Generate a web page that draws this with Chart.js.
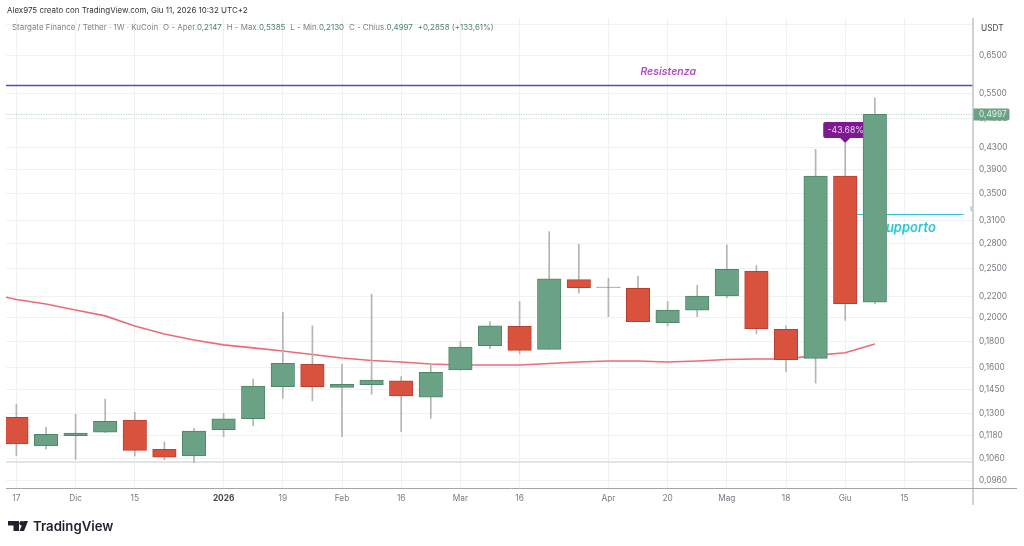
<!DOCTYPE html>
<html lang="it">
<head>
<meta charset="utf-8">
<title>Stargate Finance / Tether</title>
<script src="https://cdn.jsdelivr.net/npm/chart.js@4"></script>
<style>
  html, body { margin: 0; background: #fff; }
  #wrap { position: relative; width: 1024px; height: 546px; }
</style>
</head>
<body>
<div id="wrap"><canvas id="chart" width="1024" height="546"></canvas></div>
<script>
// Weekly candles, oldest first
const opens  = [0.1278,0.1124,0.1177,0.1195,0.1263,0.1107,0.1074,0.1209,0.1271,0.1468,0.1623,0.1463,0.1481,0.1506,0.1399,0.1582,0.1765,0.1926,0.1736,0.2375,0.2298,0.2285,0.1957,0.2070,0.2207,0.2470,0.1900,0.1667,0.3788,0.2147];
const closes = [0.1134,0.1184,0.1191,0.1256,0.1102,0.1068,0.1202,0.1269,0.1472,0.1630,0.1468,0.1483,0.1511,0.1407,0.1565,0.1754,0.1929,0.1728,0.2385,0.2291,0.2293,0.1966,0.2072,0.2207,0.2489,0.1905,0.1657,0.3788,0.2132,0.4997];
const highs  = [0.1356,0.1222,0.1296,0.1388,0.1308,0.1144,0.1217,0.1302,0.1519,0.2051,0.1929,0.1625,0.2227,0.1535,0.1625,0.1800,0.1966,0.2151,0.2948,0.2785,0.2390,0.2415,0.2151,0.2316,0.2777,0.2530,0.1929,0.4271,0.4394,0.5385];
const lows   = [0.1076,0.1107,0.1058,0.1193,0.1074,0.1056,0.1042,0.1172,0.1231,0.1393,0.1376,0.1172,0.1418,0.1199,0.1273,0.1582,0.1741,0.1700,0.1736,0.2234,0.2011,0.1966,0.1929,0.2011,0.2191,0.1860,0.1570,0.1490,0.1978,0.2130];

// Moving average; the first entry belongs to the week before the visible range
const movingAverage = [0.2237,0.2172,0.2129,0.2072,0.2018,0.1929,0.1860,0.1811,0.1771,0.1747,0.1723,0.1696,0.1670,0.1651,0.1640,0.1625,0.1618,0.1618,0.1618,0.1629,0.1640,0.1647,0.1647,0.1640,0.1647,0.1658,0.1662,0.1662,0.1689,0.1710,0.1778];

// Axis ticks
const priceTicks  = [0.75,0.65,0.55,0.49,0.43,0.39,0.35,0.31,0.28,0.25,0.22,0.20,0.18,0.16,0.145,0.13,0.118,0.106,0.096];
const priceLabels = ['','0,6500','0,5500','0,4900','0,4300','0,3900','0,3500','0,3100','0,2800','0,2500','0,2200','0,2000','0,1800','0,1600','0,1450','0,1300','0,1180','0,1060','0,0960'];
const weekTicks   = [0,2,4,7,9,11,13,15,17,20,22,24,26,28,30];
const weekLabels  = ['17','Dic','15','2026','19','Feb','16','Mar','16','Apr','20','Mag','18','Giu','15'];

// Drawn levels
const resistanceLevel = 0.5692;
const supportLevel    = 0.3192;
const floorLevel      = 0.1046;

const GREEN = '#6ba285', GREEN_EDGE = '#4f8669';
const RED = '#d9523e', RED_EDGE = '#b9402f';
const FONT = 'Inter, "Noto Sans", sans-serif';

const weeks = opens.map((_, i) => i);
const isUp = i => closes[i] >= opens[i];

// Everything that sits behind the candles: levels, notes and the measure flag
const behindCandles = {
  id: 'behindCandles',
  beforeDatasetsDraw(chart) {
    const { ctx, chartArea: a, scales: { x, y } } = chart;
    ctx.save();

    // thick grey level near the bottom
    ctx.strokeStyle = '#e3e4e5'; ctx.lineWidth = 2;
    hLine(ctx, a.left, a.right, y.getPixelForValue(floorLevel));

    // last price dotted line
    ctx.strokeStyle = '#a8cdb8'; ctx.lineWidth = 1; ctx.setLineDash([1, 1.5]);
    hLine(ctx, a.left, a.right, y.getPixelForValue(closes[closes.length - 1]));
    ctx.setLineDash([]);

    // resistance
    ctx.strokeStyle = '#5d49b3'; ctx.lineWidth = 1.5;
    hLine(ctx, a.left, a.right, y.getPixelForValue(resistanceLevel));
    ctx.font = 'italic 600 10.5px ' + FONT;
    ctx.fillStyle = '#b24cc4'; ctx.textAlign = 'center'; ctx.textBaseline = 'middle';
    ctx.fillText('Resistenza', x.getPixelForValue(22.02), y.getPixelForValue(0.6048));

    // support
    ctx.strokeStyle = '#35c3d6'; ctx.lineWidth = 1;
    hLine(ctx, x.getPixelForValue(28), x.getPixelForValue(32.0), Math.round(y.getPixelForValue(supportLevel)) + 0.5);
    ctx.font = 'italic 600 13px ' + FONT;
    ctx.fillStyle = '#2cc3d8'; ctx.textAlign = 'right';
    ctx.fillText('Supporto', x.getPixelForValue(31.06), y.getPixelForValue(0.2997));
    ctx.fillStyle = 'rgba(53,195,214,0.55)';
    ctx.fillRect(a.right - 2, y.getPixelForValue(0.3305), 1.5, 5);

    // measure flag over the June candle
    const fx = x.getPixelForValue(28), tip = y.getPixelForValue(highs[28]);
    ctx.fillStyle = '#7d1a90';
    ctx.beginPath();
    ctx.roundRect(fx - 22, tip - 21, 44, 16, 2);
    ctx.fill();
    ctx.beginPath();
    ctx.moveTo(fx - 5, tip - 5); ctx.lineTo(fx, tip); ctx.lineTo(fx + 5, tip - 5);
    ctx.closePath(); ctx.fill();
    ctx.font = '8.7px ' + FONT;
    ctx.fillStyle = '#e8cdef'; ctx.textAlign = 'center';
    ctx.fillText('-43.68%', fx + 0.5, tip - 12.5);
    ctx.restore();
  }
};

// Axis frame, price tag, headers and wordmark
const overlay = {
  id: 'overlay',
  afterDraw(chart) {
    const { ctx, chartArea: a, scales: { y } } = chart;
    ctx.save();

    ctx.strokeStyle = '#a3a5a8'; ctx.lineWidth = 1;
    ctx.beginPath();
    ctx.moveTo(a.right + 0.5, a.top); ctx.lineTo(a.right + 0.5, 505);
    ctx.moveTo(a.left, a.bottom + 0.5); ctx.lineTo(1017, a.bottom + 0.5);
    ctx.stroke();

    // last price tag on the axis
    const py = y.getPixelForValue(closes[closes.length - 1]);
    ctx.fillStyle = '#6ba285';
    ctx.beginPath();
    ctx.roundRect(a.right + 1, py - 6, 36, 12, [0, 2, 2, 0]);
    ctx.fill();
    ctx.font = '8.3px ' + FONT;
    ctx.fillStyle = '#e2f0e8'; ctx.textAlign = 'left'; ctx.textBaseline = 'middle';
    ctx.fillText('0,4997', a.right + 6.5, py + 0.5);

    ctx.fillStyle = '#43464e';
    ctx.fillText('USDT', 981, 29);

    // authoring line
    ctx.font = '7.95px ' + FONT;
    ctx.fillStyle = '#30333a';
    ctx.fillText('Alex975 creato con TradingView.com, Giu 11, 2026 10:32 UTC+2', 7, 10.5);

    // symbol and OHLC line
    const grey = '#7d8187', green = '#4f8669';
    const parts = [
      ['Stargate Finance / Tether · 1W · KuCoin', grey, 4.9],
      ['O - Aper.', grey, 0], ['0,2147', green, 4.9],
      ['H - Max.', grey, 0], ['0,5385', green, 4.9],
      ['L - Min.', grey, 0], ['0,2130', green, 4.9],
      ['C - Chius.', grey, 0], ['0,4997', green, 4.9],
      ['+0,2858 (+133,61%)', green, 0]
    ];
    ctx.font = '7.95px ' + FONT;
    let tx = 12;
    for (const [text, colour, gap] of parts) {
      ctx.fillStyle = colour;
      ctx.fillText(text, tx, 28);
      tx += ctx.measureText(text).width + gap;
    }

    // wordmark
    ctx.fillStyle = '#1e222d';
    ctx.beginPath();
    ctx.moveTo(8, 521); ctx.lineTo(19, 521); ctx.lineTo(19, 531); ctx.lineTo(13.5, 531);
    ctx.lineTo(13.5, 525.5); ctx.lineTo(8, 525.5); ctx.closePath(); ctx.fill();
    ctx.beginPath(); ctx.arc(21.6, 523.2, 2.2, 0, Math.PI * 2); ctx.fill();
    ctx.beginPath();
    ctx.moveTo(23.5, 521); ctx.lineTo(28, 521); ctx.lineTo(24, 531); ctx.lineTo(19.5, 531);
    ctx.closePath(); ctx.fill();
    ctx.font = '600 13.2px ' + FONT;
    ctx.textBaseline = 'alphabetic';
    ctx.fillText('TradingView', 33, 531);
    ctx.restore();
  }
};

function hLine(ctx, x0, x1, py) {
  ctx.beginPath();
  ctx.moveTo(x0, py);
  ctx.lineTo(x1, py);
  ctx.stroke();
}

new Chart(document.getElementById('chart'), {
  type: 'bar',
  data: {
    datasets: [
      {
        type: 'line',
        label: 'Media mobile',
        data: movingAverage.map((v, i) => ({ x: i - 1, y: v })),
        borderColor: '#ee6a76',
        borderWidth: 1.6,
        pointRadius: 0,
        tension: 0,
        order: 3
      },
      {
        label: 'Minimo / massimo',
        data: weeks.map(i => ({ x: i, y: [lows[i], highs[i]] })),
        backgroundColor: '#b3b5b4',
        barThickness: 1,
        borderWidth: 0,
        grouped: false,
        order: 2
      },
      {
        label: 'Apertura / chiusura',
        data: weeks.map(i => ({ x: i, y: [opens[i], closes[i]] })),
        backgroundColor: weeks.map(i => isUp(i) ? GREEN : RED),
        borderColor: weeks.map(i => isUp(i) ? GREEN_EDGE : RED_EDGE),
        borderWidth: 1,
        borderSkipped: false,
        barThickness: 23.5,
        grouped: false,
        order: 1
      }
    ]
  },
  options: {
    responsive: false,
    animation: false,
    layout: { padding: { left: 6, top: 18, right: 0, bottom: 0 } },
    plugins: { legend: { display: false }, tooltip: { enabled: false } },
    scales: {
      x: {
        type: 'linear',
        offset: false,
        min: -0.351,
        max: 32.30,
        afterBuildTicks: s => { s.ticks = weekTicks.map(v => ({ value: v })); },
        afterFit: s => { s.height = 58; },
        grid: { color: '#eef0f2', drawTicks: false, offset: false },
        border: { display: false },
        ticks: {
          autoSkip: false,
          maxRotation: 0,
          padding: 6,
          color: ctx => ctx.index === weekLabels.indexOf('2026') ? '#43464e' : '#787b83',
          font: ctx => ({
            family: FONT,
            size: 8.3,
            weight: ctx.index === weekLabels.indexOf('2026') ? '700' : '400'
          }),
          callback: (v, i) => weekLabels[i]
        }
      },
      y: {
        type: 'logarithmic',
        position: 'right',
        min: 0.0930,
        max: 0.7712,
        afterBuildTicks: s => { s.ticks = priceTicks.map(v => ({ value: v })); },
        afterFit: s => { s.width = 51.5; },
        grid: { color: '#f0f1f3', drawTicks: false },
        border: { display: false },
        ticks: {
          autoSkip: false,
          padding: 6.5,
          color: '#787b83',
          font: { family: FONT, size: 8.3 },
          callback: (v, i) => priceLabels[i]
        }
      }
    }
  },
  plugins: [behindCandles, overlay]
});
</script>
</body>
</html>
